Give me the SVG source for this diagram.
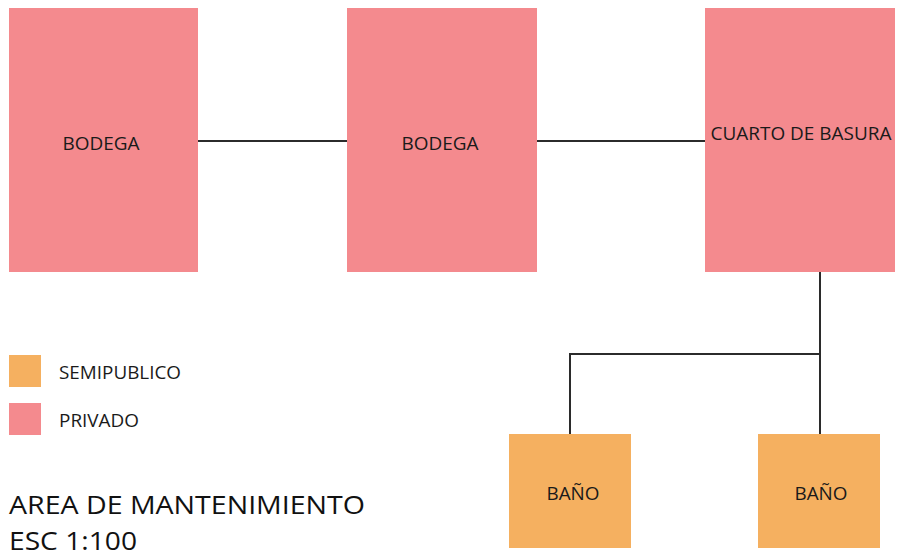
<svg xmlns="http://www.w3.org/2000/svg" width="897" height="558" viewBox="0 0 897 558">
<style>
.priv{fill:#F48A8E}
.semi{fill:#F5B060}
.lbl{font-family:"Open Sans","Liberation Sans",sans-serif;font-size:19px;fill:#1a1a1a}
.c{text-anchor:middle}
.con{stroke:#2b2b2b;stroke-width:2;fill:none}
.title{font-family:"Open Sans","Liberation Sans",sans-serif;font-size:26px;fill:#111}
</style>
<rect width="897" height="558" fill="#fff"/>
<g id="connectors">
<line class="con" x1="198" y1="141" x2="347" y2="141"/>
<line class="con" x1="537" y1="141" x2="705" y2="141"/>
<polyline class="con" points="820,272 820,435"/>
<polyline class="con" points="820,354 570,354 570,435"/>
</g>
<g id="bodega1"><rect class="priv" x="9" y="8" width="189" height="264"/><text class="lbl c" x="101" y="150" textLength="77" lengthAdjust="spacingAndGlyphs">BODEGA</text></g>
<g id="bodega2"><rect class="priv" x="347" y="8" width="190" height="264"/><text class="lbl c" x="440" y="150" textLength="77" lengthAdjust="spacingAndGlyphs">BODEGA</text></g>
<g id="basura"><rect class="priv" x="705" y="8" width="190" height="264"/><text class="lbl c" x="801" y="140" textLength="181" lengthAdjust="spacingAndGlyphs">CUARTO DE BASURA</text></g>
<g id="bano1"><rect class="semi" x="509" y="434" width="122" height="114"/><text class="lbl c" x="573" y="500" textLength="53" lengthAdjust="spacingAndGlyphs">BAÑO</text></g>
<g id="bano2"><rect class="semi" x="758" y="434" width="122" height="114"/><text class="lbl c" x="821" y="500" textLength="53" lengthAdjust="spacingAndGlyphs">BAÑO</text></g>
<g id="legend">
<rect class="semi" x="9" y="355" width="32" height="32"/>
<text class="lbl" x="59" y="379" textLength="122" lengthAdjust="spacingAndGlyphs">SEMIPUBLICO</text>
<rect class="priv" x="9" y="403" width="32" height="32"/>
<text class="lbl" x="59" y="427" textLength="80" lengthAdjust="spacingAndGlyphs">PRIVADO</text>
</g>
<g id="title">
<text class="title" x="9" y="514" textLength="356" lengthAdjust="spacingAndGlyphs">AREA DE MANTENIMIENTO</text>
<text class="title" x="9" y="550" textLength="128" lengthAdjust="spacingAndGlyphs">ESC 1:100</text>
</g>
</svg>
